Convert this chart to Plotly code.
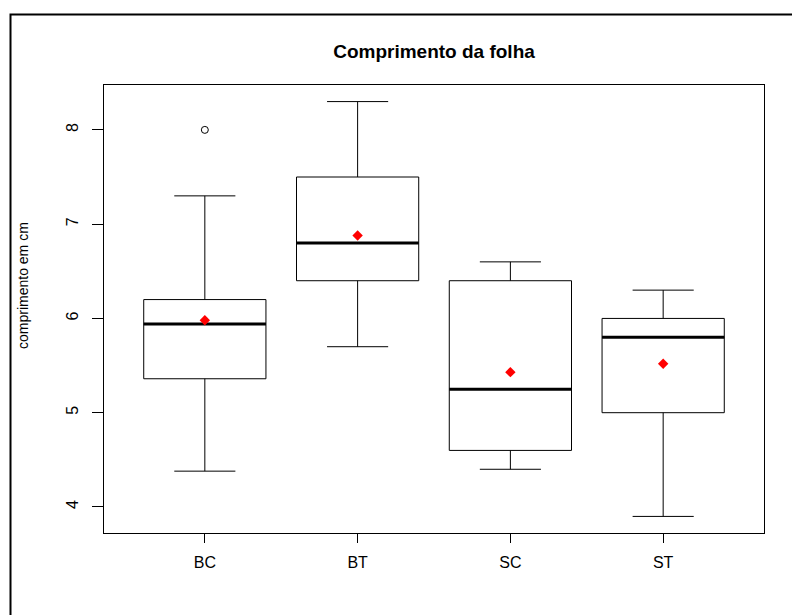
import plotly.graph_objects as go

# ---- data ----
categories = ["BC", "BT", "SC", "ST"]
lower_whisker = [4.38, 5.70, 4.40, 3.90]
q1_values = [5.36, 6.40, 4.60, 5.00]
median_values = [5.94, 6.80, 5.25, 5.80]
q3_values = [6.20, 7.50, 6.40, 6.00]
upper_whisker = [7.30, 8.30, 6.60, 6.30]
mean_values = [5.98, 6.88, 5.43, 5.52]
outlier_group = ["BC"]
outlier_values = [8.0]
y_ticks = [4, 5, 6, 7, 8]

pos = list(range(1, len(categories) + 1))
cat_pos = dict(zip(categories, pos))
box_w = 0.8

FONT = "Liberation Sans, Arial, Helvetica, sans-serif"

fig = go.Figure()

fig.add_trace(go.Box(
    x=pos, q1=q1_values, median=median_values, q3=q3_values,
    lowerfence=lower_whisker, upperfence=upper_whisker,
    width=box_w, whiskerwidth=0.5, boxpoints=False,
    line=dict(color="black", width=1), fillcolor="white",
    showlegend=False, hoverinfo="skip",
))

# thick median lines (R style)
for p, m in zip(pos, median_values):
    fig.add_trace(go.Scatter(
        x=[p - box_w / 2, p + box_w / 2], y=[m, m], mode="lines",
        line=dict(color="black", width=3), showlegend=False, hoverinfo="skip",
    ))

# outliers
fig.add_trace(go.Scatter(
    x=[cat_pos[g] for g in outlier_group], y=outlier_values, mode="markers",
    marker=dict(symbol="circle-open", size=7, color="black", line=dict(width=1)),
    showlegend=False, hoverinfo="skip",
))

# means
fig.add_trace(go.Scatter(
    x=pos, y=mean_values, mode="markers",
    marker=dict(symbol="diamond", size=8, color="red"),
    showlegend=False, hoverinfo="skip",
))

# page has an 8px body margin -> figure is drawn offset by (8, 8)
OFF = 8
W, H = 800 - OFF, 615 - OFF
# target plot area on the page: x 104..764, y 85..533
L, T = 104 - OFF, 85 - OFF
R, B = 800 - 764, 615 - 533
pw, ph = W - L - R, H - T - B

def px_x(X):  # page pixel -> paper x
    return (X - 104) / pw

def px_y(Y):  # page pixel -> paper y
    return (533 - Y) / ph

fig.update_layout(
    width=W, height=H,
    margin=dict(l=L, r=R, t=T, b=B, autoexpand=False),
    paper_bgcolor="white", plot_bgcolor="white",
    font=dict(family=FONT, color="black", size=15),
    title=dict(text="<b>Comprimento da folha</b>", x=px_x(434), xref="paper", xanchor="center",
               y=1 - (51 - OFF) / H, yref="container", yanchor="middle",
               font=dict(family=FONT, size=19, color="black")),
    xaxis=dict(range=[0.34, 4.66], tickvals=pos, ticktext=categories,
               showgrid=False, zeroline=False, showline=True, mirror=True,
               linecolor="black", linewidth=1, ticks="outside", ticklen=9,
               tickcolor="black", tickwidth=1, ticklabelstandoff=6,
               tickfont=dict(size=16)),
    yaxis=dict(range=[3.724, 8.476], tickvals=y_ticks,
               showgrid=False, zeroline=False, showline=True, mirror=True,
               linecolor="black", linewidth=1, ticks="outside", ticklen=11,
               tickcolor="black", tickwidth=1, tickangle=-90, ticklabelstandoff=8,
               tickfont=dict(size=16)),
    annotations=[dict(text="comprimento em cm", textangle=-90, showarrow=False,
                      xref="paper", yref="paper", x=px_x(23), y=px_y(286),
                      xanchor="center", yanchor="middle",
                      font=dict(family=FONT, size=14, color="black"))],
    shapes=[dict(type="rect", xref="paper", yref="paper",
                 x0=px_x(10.5), x1=px_x(815), y0=px_y(14.5), y1=px_y(630),
                 line=dict(color="black", width=2), fillcolor="rgba(0,0,0,0)",
                 layer="above")],
)

fig.write_html("out.html")
